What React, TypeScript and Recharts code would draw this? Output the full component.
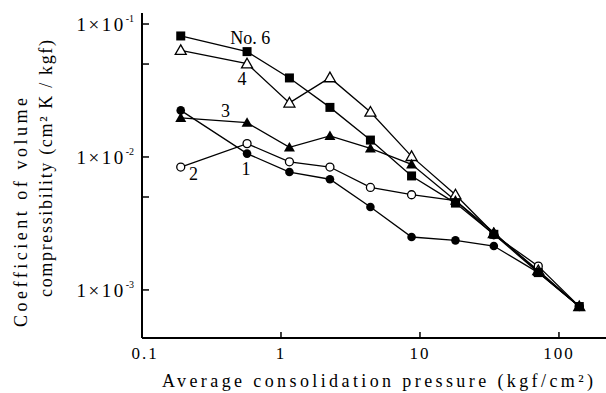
import React from 'react';
import { LineChart, Line, XAxis, YAxis, ReferenceDot } from 'recharts';

const pressure = [0.19, 0.57, 1.15, 2.25, 4.4, 8.7, 18, 34, 71, 140];
const no1 = [0.0224, 0.0106, 0.0077, 0.0068, 0.0042, 0.0025, 0.00236, 0.00214, 0.00135, 0.00075];
const no2 = [0.0084, 0.0126, 0.0092, 0.0084, 0.0059, 0.0052, 0.0047, 0.0026, 0.00151, 0.00075];
const no3 = [0.0197, 0.0181, 0.0118, 0.0144, 0.0116, 0.0088, 0.0047, 0.0027, 0.00137, 0.00075];
const no4 = [0.0634, 0.0503, 0.0255, 0.0395, 0.0218, 0.0101, 0.0052, 0.00266, 0.0014, 0.00075];
const no6 = [0.0813, 0.062, 0.0393, 0.0236, 0.0134, 0.0072, 0.0045, 0.00262, 0.00135, 0.00075];

const xTicks = [0.1, 1, 10, 100];
const xTickLabels = ['0.1', '1', '10', '100'];
const yTicks = [0.001, 0.005, 0.01, 0.05, 0.1];

const seriesLabels = [
  { text: 'No. 6', x: 0.6, y: 0.0785 },
  { text: '4', x: 0.524, y: 0.0386 },
  { text: '3', x: 0.399, y: 0.0222 },
  { text: '2', x: 0.235, y: 0.00744 },
  { text: '1', x: 0.56, y: 0.00812 },
];

const data = pressure.map((p, i) => ({
  p,
  no1: no1[i],
  no2: no2[i],
  no3: no3[i],
  no4: no4[i],
  no6: no6[i],
}));

const FONT = 'Liberation Serif';

const XTick = (props: any) => {
  const { x, y, payload } = props;
  const idx = xTicks.indexOf(payload.value);
  const label = idx >= 0 ? xTickLabels[idx] : String(payload.value);
  return (
    <g>
      <line x1={x} y1={y} x2={x} y2={y - 6} stroke="#000" strokeWidth={1.5} />
      <text x={x + (idx === 0 ? 3 : 0)} y={y + 21} textAnchor="middle" style={{ fontFamily: FONT }} fontSize={17} letterSpacing={2} fill="#000">
        {label}
      </text>
    </g>
  );
};

const YTick = (props: any) => {
  const { x, y, payload } = props;
  const lg = Math.log10(payload.value);
  const major = Math.abs(lg - Math.round(lg)) < 1e-6;
  return (
    <g>
      <line x1={x} y1={y} x2={x + 7} y2={y} stroke="#000" strokeWidth={1.5} />
      {major && (
        <text x={x - 8} y={y + 7} textAnchor="end" style={{ fontFamily: FONT }} fontSize={19} fill="#000">
          <tspan letterSpacing={2.5}>1×10</tspan>
          <tspan fontSize={10} dy={-9}>{'-' + Math.abs(Math.round(lg))}</tspan>
        </text>
      )}
    </g>
  );
};

const FilledSquare = (props: any) => {
  const { cx, cy } = props;
  if (cx == null || cy == null) return null;
  return <rect x={cx - 4.5} y={cy - 4.5} width={9} height={9} fill="#000" />;
};
const OpenTriangle = (props: any) => {
  const { cx, cy } = props;
  if (cx == null || cy == null) return null;
  const s = 5.5;
  return (
    <polygon
      points={`${cx},${cy - s} ${cx - s},${cy + s * 0.75} ${cx + s},${cy + s * 0.75}`}
      fill="#fff"
      stroke="#000"
      strokeWidth={1.3}
    />
  );
};
const FilledTriangle = (props: any) => {
  const { cx, cy } = props;
  if (cx == null || cy == null) return null;
  const s = 5.5;
  return (
    <polygon points={`${cx},${cy - s} ${cx - s},${cy + s * 0.75} ${cx + s},${cy + s * 0.75}`} fill="#000" />
  );
};
const OpenCircle = (props: any) => {
  const { cx, cy } = props;
  if (cx == null || cy == null) return null;
  return <circle cx={cx} cy={cy} r={4} fill="#fff" stroke="#000" strokeWidth={1.3} />;
};
const FilledCircle = (props: any) => {
  const { cx, cy } = props;
  if (cx == null || cy == null) return null;
  return <circle cx={cx} cy={cy} r={4.3} fill="#000" />;
};

export default function App() {
  return (
    <div style={{ position: 'absolute', left: 0, top: 0, width: 606, height: 393, background: '#fff' }}>
      <LineChart width={606} height={393} data={data} margin={{ top: 13, right: 0, bottom: 0, left: 0 }}>
        <XAxis
          dataKey="p"
          type="number"
          scale="log"
          domain={[0.1, 218]}
          allowDataOverflow
          ticks={xTicks}
          tick={<XTick />}
          tickLine={false}
          tickSize={0}
          tickMargin={0}
          height={55}
          axisLine={{ stroke: '#000', strokeWidth: 2 }}
          interval={0}
        />
        <YAxis
          type="number"
          scale="log"
          domain={[0.000435, 0.121]}
          allowDataOverflow
          ticks={yTicks}
          tick={<YTick />}
          tickLine={false}
          tickSize={0}
          tickMargin={0}
          width={142}
          axisLine={{ stroke: '#000', strokeWidth: 2 }}
          interval={0}
        />
        <Line dataKey="no2" stroke="#000" strokeWidth={1.3} dot={<OpenCircle />} isAnimationActive={false} />
        <Line dataKey="no1" stroke="#000" strokeWidth={1.3} dot={<FilledCircle />} isAnimationActive={false} />
        <Line dataKey="no4" stroke="#000" strokeWidth={1.3} dot={<OpenTriangle />} isAnimationActive={false} />
        <Line dataKey="no3" stroke="#000" strokeWidth={1.3} dot={<FilledTriangle />} isAnimationActive={false} />
        <Line dataKey="no6" stroke="#000" strokeWidth={1.3} dot={<FilledSquare />} isAnimationActive={false} />
        {seriesLabels.map((l) => (
          <ReferenceDot
            key={l.text}
            x={l.x}
            y={l.y}
            r={1}
            fill="none"
            stroke="none"
            ifOverflow="visible"
            label={{ value: l.text, position: 'center', style: { fontFamily: FONT }, fontSize: 18, fill: '#000' }}
          />
        ))}
      </LineChart>
      <svg width={606} height={393} style={{ position: 'absolute', left: 0, top: 0, pointerEvents: 'none' }}>
        <text x={162} y={387} style={{ fontFamily: FONT }} fontSize={18} textLength={431} lengthAdjust="spacing" fill="#000">
          Average consolidation pressure (kgf/cm²)
        </text>
        <text
          transform="translate(27,327) rotate(-90)"
          style={{ fontFamily: FONT }}
          fontSize={18}
          textLength={229}
          lengthAdjust="spacing"
          fill="#000"
        >
          Coefficient of volume
        </text>
        <text
          transform="translate(52,297) rotate(-90)"
          style={{ fontFamily: FONT }}
          fontSize={18}
          textLength={257}
          lengthAdjust="spacing"
          fill="#000"
        >
          compressibility (cm² K / kgf)
        </text>
      </svg>
    </div>
  );
}
